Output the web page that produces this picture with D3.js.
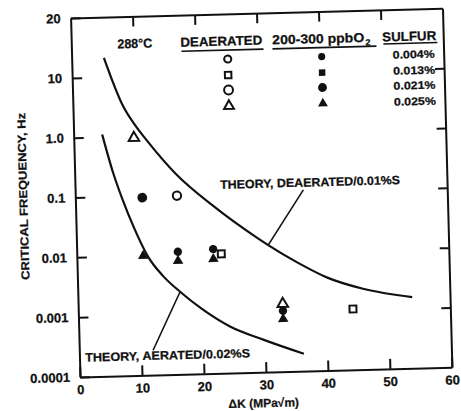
<!DOCTYPE html>
<html>
<head>
<meta charset="utf-8">
<script src="https://cdn.jsdelivr.net/npm/d3@7"></script>
<style>
  body { margin: 0; background: #fff; }
  text { font-family: "Liberation Sans", Arial, sans-serif; font-weight: bold; fill: #111; stroke: #111; stroke-width: 0.25px; }
</style>
</head>
<body>
<script>
// axis ticks
let xTicks = [0, 10, 20, 30, 40, 50, 60]
let xTickLabels = ["0", "10", "20", "30", "40", "50", "60"]
let yTicks = [0.0001, 0.001, 0.01, 0.1, 1, 10, 100]
let yTickLabels = ["0.0001", "0.001", "0.01", "0.1", "1.0", "10", "20"]

// theory curves (dK in MPa*sqrt(m), frequency in Hz)
let deaeratedCurveDK = [5.2, 8.1, 10.0, 11.8, 16.4, 22.2, 29.1, 30.9, 35.5, 40.2, 46.0, 53.9]
let deaeratedCurveF = [21, 3.2, 1.5, 0.83, 0.219, 0.063, 0.0178, 0.0132, 0.0066, 0.0036, 0.00224, 0.00155]
let aeratedCurveDK = [4.6, 6.2, 7.6, 9.2, 11.5, 13.8, 16.5, 20.0, 24.4, 29.7, 36.2]
let aeratedCurveF = [1.1, 0.25, 0.089, 0.032, 0.0095, 0.0045, 0.0024, 0.0012, 0.0006, 0.00035, 0.000195]

// measured points, deaerated (open symbols)
let deaeratedDK = [9.7, 16.4, 23.3, 33.0, 44.3]
let deaeratedF = [0.94, 0.097, 0.0099, 0.00136, 0.00104]
let deaeratedShape = ["triangle", "circle", "square", "triangle", "square"]

// measured points, 200-300 ppb O2 (filled symbols)
let oxygenDK = [10.8, 10.7, 16.3, 16.3, 22.0, 22.0, 33.0, 33.0]
let oxygenF = [0.093, 0.0099, 0.0112, 0.0079, 0.012, 0.0082, 0.00104, 0.00076]
let oxygenShape = ["bigcircle", "triangle", "circle", "triangle", "circle", "triangle", "circle", "triangle"]

// legend
let sulfurLabels = ["0.004%", "0.013%", "0.021%", "0.025%"]
let sulfurShapes = ["circle", "square", "bigcircle", "triangle"]

let width = 461
let height = 411

let svg = d3.select("body").append("svg")
  .attr("width", width)
  .attr("height", height)

// the scan is turned a little, so everything sits in a rotated group
let plot = svg.append("g").attr("transform", "rotate(-1.5, 80, 377)")

let xScale = d3.scaleLinear().domain([0, 60]).range([80, 452])
let yScale = d3.scaleLog().domain([0.0001, 100]).range([377, 18])

let symbolFor = (s, legend) => {
  if (s === "circle") return d3.symbol().type(d3.symbolCircle).size(legend ? 40 : 55)()
  if (s === "bigcircle") return d3.symbol().type(d3.symbolCircle).size(legend ? 62 : 75)()
  if (s === "square") return d3.symbol().type(d3.symbolSquare).size(legend ? 42 : 48)()
  return d3.symbol().type(d3.symbolTriangle).size(legend ? 42 : 48)()
}

let drawAxes = () => {
  let bottom = plot.append("g")
    .attr("transform", "translate(0," + 377 + ")")
    .call(d3.axisBottom(xScale).tickValues(xTicks).tickFormat((d, i) => xTickLabels[i])
      .tickSizeInner(-10).tickSizeOuter(0).tickPadding(8))
  bottom.selectAll("text").style("font-size", "13px").style("font-family", "Liberation Sans").style("font-weight", "bold")

  let left = plot.append("g")
    .attr("transform", "translate(80,0)")
    .call(d3.axisLeft(yScale).tickValues(yTicks).tickFormat((d, i) => yTickLabels[i])
      .tickSizeInner(-10).tickSizeOuter(0).tickPadding(10))
  left.selectAll("text").style("font-size", "13px").style("font-family", "Liberation Sans").style("font-weight", "bold")

  plot.append("g")
    .attr("transform", "translate(0,18)")
    .call(d3.axisTop(xScale).tickValues([10, 20, 30, 40, 50]).tickFormat("")
      .tickSizeInner(-10).tickSizeOuter(0))

  plot.append("g")
    .attr("transform", "translate(452,0)")
    .call(d3.axisRight(yScale).tickValues(yTicks.slice(1, 6)).tickFormat("")
      .tickSizeInner(-9).tickSizeOuter(0))

  plot.selectAll(".domain, .tick line")
    .attr("stroke", "#111")
    .attr("stroke-width", 2)

  plot.append("text")
    .attr("x", 263)
    .attr("y", 408)
    .attr("text-anchor", "middle")
    .attr("dominant-baseline", "central")
    .style("font-size", "12px")
    .text("ΔK (MPa√m)")

  plot.append("text")
    .attr("transform", "translate(28,195) rotate(-90)")
    .attr("text-anchor", "middle")
    .attr("dominant-baseline", "central")
    .attr("textLength", 167)
    .attr("lengthAdjust", "spacingAndGlyphs")
    .style("font-size", "11.5px")
    .text("CRITICAL FREQUENCY, Hz")
}

let drawCurves = () => {
  let line = d3.line()
    .x(d => xScale(d[0]))
    .y(d => yScale(d[1]))
    .curve(d3.curveMonotoneX)

  plot.append("path")
    .attr("d", line(d3.zip(deaeratedCurveDK, deaeratedCurveF)))
    .attr("fill", "none")
    .attr("stroke", "#111")
    .attr("stroke-width", 2.2)

  plot.append("path")
    .attr("d", line(d3.zip(aeratedCurveDK, aeratedCurveF)))
    .attr("fill", "none")
    .attr("stroke", "#111")
    .attr("stroke-width", 2.2)

  // leaders
  plot.append("line")
    .attr("x1", xScale(36.8)).attr("y1", yScale(0.107))
    .attr("x2", xScale(30.9)).attr("y2", yScale(0.0132))
    .attr("stroke", "#111").attr("stroke-width", 1.6)
  plot.append("line")
    .attr("x1", xScale(16.5)).attr("y1", yScale(0.0024))
    .attr("x2", xScale(11.9)).attr("y2", yScale(0.00026))
    .attr("stroke", "#111").attr("stroke-width", 1.6)

  plot.append("text")
    .attr("x", xScale(23.4))
    .attr("y", yScale(0.141))
    .attr("dominant-baseline", "central")
    .attr("textLength", 180)
    .attr("lengthAdjust", "spacingAndGlyphs")
    .style("font-size", "12px")
    .text("THEORY, DEAERATED/0.01%S")

  plot.append("text")
    .attr("x", xScale(0.9))
    .attr("y", yScale(0.00021))
    .attr("dominant-baseline", "central")
    .attr("textLength", 165)
    .attr("lengthAdjust", "spacingAndGlyphs")
    .style("font-size", "12px")
    .text("THEORY, AERATED/0.02%S")
}

let drawPoints = () => {
  plot.selectAll(".open")
    .data(d3.zip(deaeratedDK, deaeratedF, deaeratedShape))
    .enter()
    .append("path")
    .attr("class", "open")
    .attr("d", d => symbolFor(d[2], false))
    .attr("transform", d => "translate(" + xScale(d[0]) + "," + yScale(d[1]) + ")")
    .attr("fill", "#fff")
    .attr("stroke", "#111")
    .attr("stroke-width", 2)

  plot.selectAll(".filled")
    .data(d3.zip(oxygenDK, oxygenF, oxygenShape))
    .enter()
    .append("path")
    .attr("class", "filled")
    .attr("d", d => symbolFor(d[2], false))
    .attr("transform", d => "translate(" + xScale(d[0]) + "," + yScale(d[1]) + ")")
    .attr("fill", "#111")
}

let drawLegend = () => {
  let head = (txt, x, len) => {
    plot.append("text")
      .attr("x", x).attr("y", 45)
      .attr("dominant-baseline", "central")
      .attr("textLength", len)
      .attr("lengthAdjust", "spacingAndGlyphs")
      .style("font-size", "13px")
      .text(txt)
  }
  head("288°C", 126, 35)
  head("DEAERATED", 189, 82)
  head("200-300 ppbO", 281, 92)
  plot.append("text")
    .attr("x", 374).attr("y", 50)
    .attr("dominant-baseline", "central")
    .style("font-size", "9px")
    .text("2")
  head("SULFUR", 391, 54)

  let rule = (x1, x2, y) => {
    plot.append("line")
      .attr("x1", x1).attr("x2", x2).attr("y1", y).attr("y2", y)
      .attr("stroke", "#111").attr("stroke-width", 1.6)
  }
  rule(190, 272, 54)
  rule(281, 385, 54)
  rule(392, 446, 52)

  let rowY = [63, 79, 94, 110]
  sulfurShapes.forEach((s, i) => {
    plot.append("path")
      .attr("d", symbolFor(s, true))
      .attr("transform", "translate(236," + rowY[i] + ")")
      .attr("fill", "#fff").attr("stroke", "#111").attr("stroke-width", 2)
    plot.append("path")
      .attr("d", symbolFor(s, true))
      .attr("transform", "translate(330," + rowY[i] + ")")
      .attr("fill", "#111")
    plot.append("text")
      .attr("x", 401).attr("y", rowY[i])
      .attr("dominant-baseline", "central")
      .attr("textLength", 42)
      .attr("lengthAdjust", "spacingAndGlyphs")
      .style("font-size", "11px")
      .text(sulfurLabels[i])
  })
}

drawAxes()
drawCurves()
drawPoints()
drawLegend()
</script>
</body>
</html>
